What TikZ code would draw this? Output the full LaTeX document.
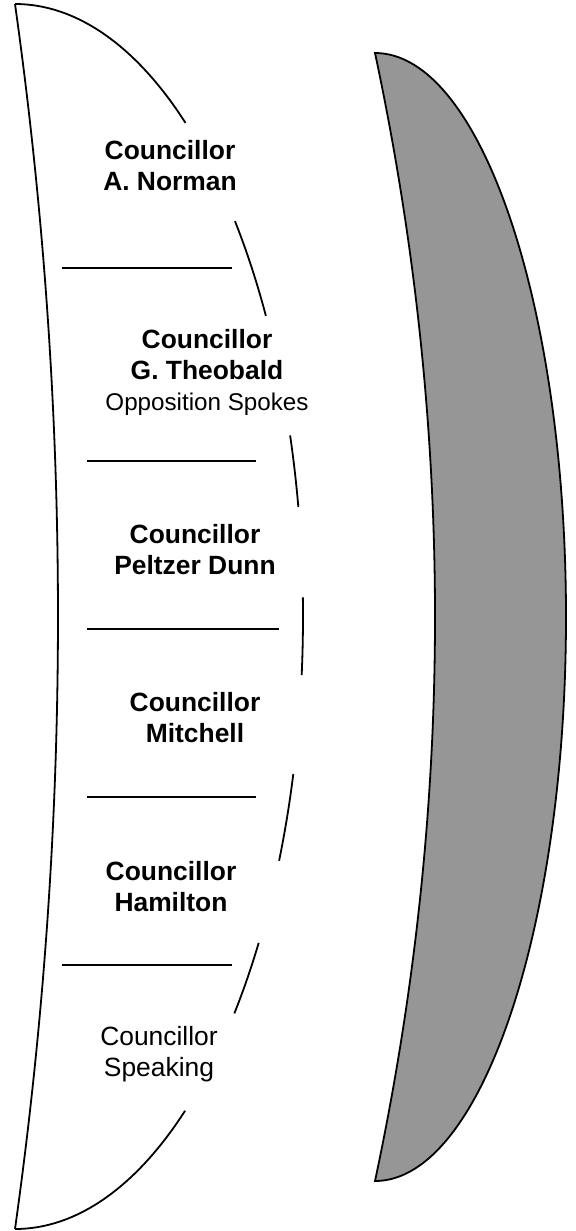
\documentclass[tikz,border=0pt]{standalone}
\usepackage{fontspec}
\setmainfont{Liberation Sans}
\usepackage{tikz}
\definecolor{benchgray}{RGB}{150,150,150}

\begin{document}
\begin{tikzpicture}[x=0.5pt,y=-0.5pt,line width=0.9pt,
   seat/.style={align=center,inner sep=0pt,font=\fontsize{13.2}{15.5}\selectfont\bfseries},
   plain seat/.style={seat,font=\fontsize{13.2}{15.5}\selectfont}]
   \useasboundingbox (0,0) rectangle (576,1231);
   \coordinate (c) at (15,616.5);
   \draw (15,4) .. controls (72.3,412) and (72.3,821) .. (15,1229);
   \foreach \a/\b in {90/53.7,40.2/29.4,17.2/10.3,1.8/-5.5,-14.9/-23.5,-32.2/-40.4,-53.8/-90}
      \draw (c) ++(\a:144pt and 306.25pt) arc[start angle=\a,end angle=\b,x radius=144pt,y radius=306.25pt];
   \foreach \l/\r/\y in {62/232/268,87/256/461,87/279/629,87/256/797,62/232/965}
      \draw (\l,\y) -- (\r,\y);
   \node [seat] (norman) at (170,166) {Councillor\\A. Norman};
   \node [seat] (theobald) at (207,372) {Councillor\\G. Theobald\\{\mdseries\fontsize{12.1}{14}\selectfont Opposition Spokes}};
   \node [seat] (peltzer) at (195,550) {Councillor\\Peltzer Dunn};
   \node [seat] (mitchell) at (195,718) {Councillor\\Mitchell};
   \node [seat] (hamilton) at (171,887) {Councillor\\Hamilton};
   \node [plain seat] (speaker) at (159,1054) {Councillor\\Speaking};
   \filldraw [fill=benchgray] (375,53) arc[start angle=90,end angle=-90,x radius=95.5pt,y radius=282pt]
      .. controls (455,805) and (455,429) .. cycle;
\end{tikzpicture}
\end{document}
